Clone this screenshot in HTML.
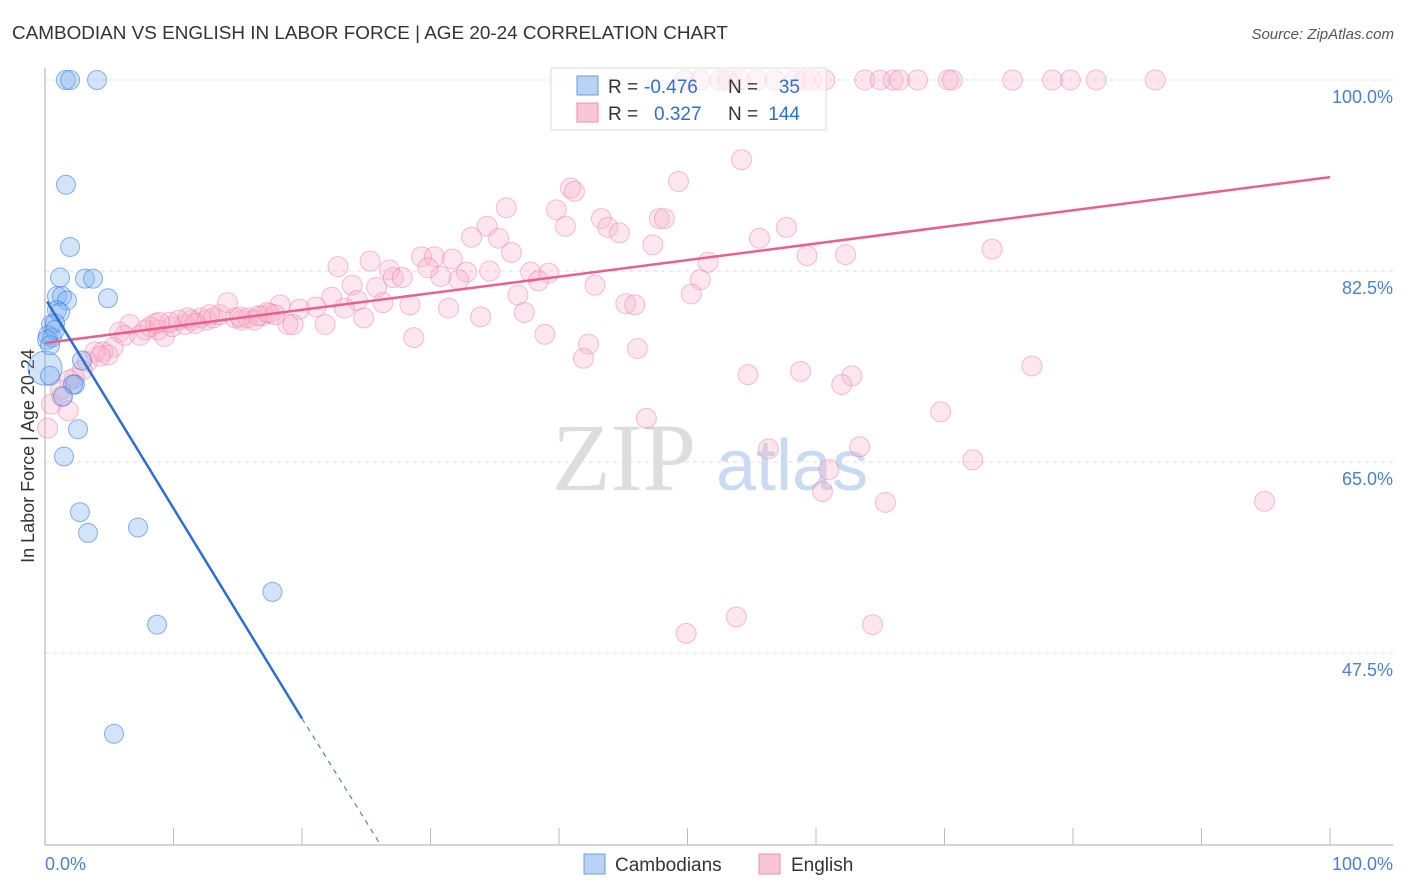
<!DOCTYPE html>
<html><head><meta charset="utf-8"><style>
body{margin:0;background:#fff;font-family:"Liberation Sans",sans-serif;}
svg{display:block}
</style></head><body>
<svg id="chart" width="1406" height="892">
<text x="12" y="39" font-size="18.9" fill="#333">CAMBODIAN VS ENGLISH IN LABOR FORCE | AGE 20-24 CORRELATION CHART</text>
<text x="1394" y="39" font-size="15" fill="#555" font-style="italic" text-anchor="end">Source: ZipAtlas.com</text>
<text transform="translate(34,456) rotate(-90)" font-size="18" fill="#333" text-anchor="middle">In Labor Force | Age 20-24</text>
<g><text x="552" y="490" font-family="Liberation Serif,serif" font-size="96" fill="#ddd">ZIP</text><text x="716" y="490" font-size="72" fill="#c9daf2">atlas</text></g>
<g id="grid"></g><g id="axes"></g><g id="pts"></g><g id="trends"></g>
<g>
<rect x="551" y="68" width="275" height="62" fill="rgba(255,255,255,0.6)" stroke="#ddd"/>
<rect x="577" y="76" width="21" height="19" fill="#b8d3f5" stroke="#6a9be0"/>
<rect x="577" y="103" width="21" height="19" fill="#f9c6d6" stroke="#eb90ad"/>
<text x="608" y="93" font-size="19" fill="#333">R =</text>
<text x="644" y="93" font-size="19" fill="#2f6fd4">-0.476</text>
<text x="728" y="93" font-size="19" fill="#333">N =</text>
<text x="800" y="93" font-size="19" fill="#2f6fd4" text-anchor="end">35</text>
<text x="608" y="120" font-size="19" fill="#333">R =</text>
<text x="654" y="120" font-size="19" fill="#2f6fd4">0.327</text>
<text x="728" y="120" font-size="19" fill="#333">N =</text>
<text x="800" y="120" font-size="19" fill="#2f6fd4" text-anchor="end">144</text>
</g>
<g>
<rect x="584" y="854" width="21" height="20" fill="#b8d3f5" stroke="#6a9be0"/>
<text x="615" y="871" font-size="19" fill="#333">Cambodians</text>
<rect x="759" y="854" width="21" height="20" fill="#f9c6d6" stroke="#eb90ad"/>
<text x="791" y="871" font-size="19" fill="#333">English</text>
</g>
</svg>
<script>
const yTicks=[100,82.5,65,47.5];
const yTickLabels=["100.0%","82.5%","65.0%","47.5%"];
const xTicks=[10,20,30,40,50,60,70,80,90,100];
const cambX=[1.63,1.95,4.05,1.63,1.95,1.17,3.11,3.74,4.9,0.93,1.32,1.71,0.93,1.17,0.47,0.78,0.23,0.54,0,0.39,2.33,2.18,2.88,1.4,2.57,1.48,2.72,3.35,7.24,17.7,8.72,5.37,0.16,0.78,0.39];
const cambY=[100,100,100,90.4,84.7,81.9,81.8,81.8,80,80.2,80.2,79.8,78.9,78.7,77.6,77.7,76.6,76.4,73.6,72.9,72.1,72.1,74.3,71,68,65.5,60.4,58.5,59,53.1,50.1,40.1,76.2,77.1,75.7];
const engX=[49.8,51,52.5,53.1,54.1,55.4,56.8,58.4,59.1,59.7,60.7,63.8,65,66,66.5,67.9,70.3,70.6,75.3,78.4,79.8,81.8,86.4,
54.2,40.9,41.2,49.3,35.9,39.8,34.4,43.3,43.8,44.7,47.8,48.2,40.5,33.2,35.3,36.3,47.3,55.6,57.7,59.3,62.3,73.7,29.3,30.3,31.7,32.8,34.6,37.8,39.2,38.4,32.2,30.8,29.8,25.3,22.8,26.8,27.1,27.8,23.9,25.8,36.8,42.8,51,51.6,50.3,45.2,45.9,22.3,24.3,26.3,28.4,31.4,33.9,37.3,24.8,23.3,21.1,19.8,21.8,38.9,28.7,42.3,41.9,46.1,54.7,58.8,62.8,62,76.8,69.7,46.8,56.3,63.4,72.2,61,60.5,65.4,94.9,53.8,49.9,64.4,
5.8,6.6,7.4,8.2,8.8,9.3,9.9,10.4,10.9,11.4,12.1,12.6,13.1,13.6,14.2,14.8,15.3,15.8,16.3,16.9,17.5,18.3,18.9,19.3,16.6,12.8,7.8,6.2,5.3,4.5,3.9,4.9,3.3,2.9,2.3,1.9,1.2,1.8,0.5,0.2,1.3,4.3,8.6,11.1,11.7,9.7,15.2,17.3,17.9,8.9];
const engY=[100,100,100,100,100,100,100,100,100,100,100,100,100,100,100,100,100,100,100,100,100,100,100,
92.7,90.1,89.8,90.7,88.3,88.1,86.6,87.3,86.5,86,87.3,87.3,86.6,85.6,85.5,84.2,84.9,85.5,86.5,83.9,84,84.5,83.8,83.8,83.6,82.4,82.5,82.4,82.3,81.6,81.7,82,82.8,83.4,82.9,82.6,81.9,81.9,81.2,81,80.3,81.2,81.7,83.3,80.4,79.5,79.4,80.1,79.8,79.6,79.4,79.1,78.3,78.7,78.2,79.1,79.2,79,77.6,76.7,76.4,75.8,74.5,75.4,73,73.3,72.9,72.1,73.8,69.6,69,66.2,66.4,65.2,64.3,62.3,61.3,61.4,50.8,49.3,50.1,
76.9,77.6,76.6,77.4,77.1,76.5,77.4,78,77.6,78,78.2,78,78.2,78.5,79.6,78.2,78,78.2,78,78.4,78.6,79.4,77.6,77.6,78.4,78.5,77.1,76.6,75.5,75.1,75.1,74.8,74.2,73.4,72.7,72.5,71.6,69.7,70.3,68.1,71,74.7,77.7,78.2,77.7,77.8,78.3,78.7,78.5,77.8];
const cambTrend=[0.16,79.7,20,41.5,26.07,30];
const engTrend=[0,75.9,100,91.1];

const NS="http://www.w3.org/2000/svg";
const X=v=>45+v*12.85, Y=v=>80+(100-v)*10.914;
function mk(tag,attrs,parent){const e=document.createElementNS(NS,tag);for(const k in attrs)e.setAttribute(k,attrs[k]);document.getElementById(parent).appendChild(e);return e;}
yTicks.forEach((t,i)=>{
 const l=mk('line',{x1:45,x2:1393,y1:Y(t),y2:Y(t),stroke:'#ddd','stroke-dasharray':'4,4'},'grid');
 
 
 const tx=mk('text',{x:1393,y:Y(t)+23,'font-size':18,fill:'#4a7fd6','text-anchor':'end'},'grid');
 tx.textContent=yTickLabels[i];
 
 
});
let a=mk('line',{x1:45,x2:45,y1:68,y2:845,stroke:'#aaa'},'axes');


a=mk('line',{x1:45,x2:1393,y1:845,y2:845,stroke:'#aaa'},'axes');


xTicks.forEach(t=>{
 const l=mk('line',{x1:X(t),x2:X(t),y1:828,y2:845,stroke:'#bbb'},'axes');
 
 
});
let t0=mk('text',{x:45,y:870,'font-size':18,fill:'#4a7fd6'},'axes');t0.textContent='0.0%';


let t1=mk('text',{x:1393,y:870,'font-size':18,fill:'#4a7fd6','text-anchor':'end'},'axes');t1.textContent='100.0%';


engX.forEach((v,i)=>{
 const c=mk('circle',{cx:X(v),cy:Y(engY[i]),r:10,fill:'rgba(248,180,202,0.33)',stroke:'rgba(236,130,165,0.5)'},'pts');
 
 
});
cambX.forEach((v,i)=>{
 const c=mk('circle',{cx:X(v),cy:Y(cambY[i]),r:i==18?17:9.5,fill:'rgba(130,178,240,0.35)',stroke:'rgba(60,130,225,0.6)'},'pts');
 
 
});
let tl=mk('line',{x1:X(engTrend[0]),y1:Y(engTrend[1]),x2:X(engTrend[2]),y2:Y(engTrend[3]),stroke:'#e8608c','stroke-width':2.5},'trends');


tl=mk('line',{x1:X(cambTrend[0]),y1:Y(cambTrend[1]),x2:X(cambTrend[2]),y2:Y(cambTrend[3]),stroke:'#2a6fd6','stroke-width':2.5},'trends');


tl=mk('line',{x1:X(cambTrend[2]),y1:Y(cambTrend[3]),x2:X(cambTrend[4]),y2:Y(cambTrend[5]),stroke:'#2a6fd6','stroke-width':1,'stroke-dasharray':'5,5'},'trends');


</script>
</body></html>
